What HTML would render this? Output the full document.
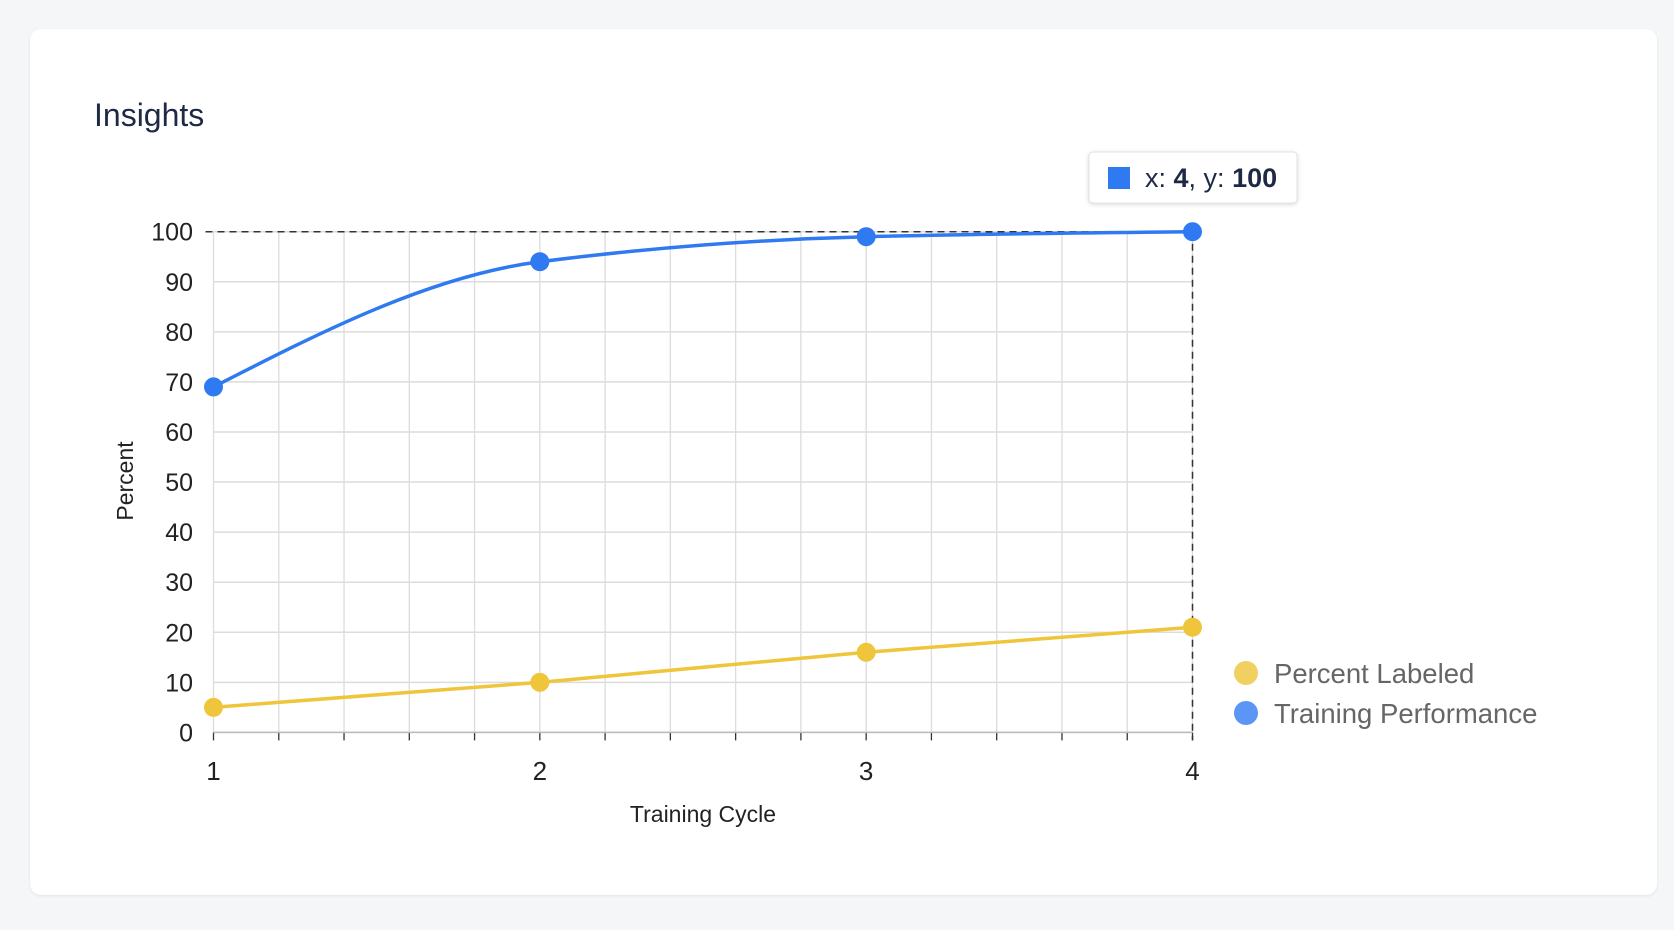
<!DOCTYPE html>
<html><head><meta charset="utf-8"><style>
html,body{margin:0;padding:0;background:#f5f6f8;width:1674px;height:930px;overflow:hidden;font-family:"Liberation Sans",sans-serif}
#card{position:absolute;left:30px;top:29px;width:1627px;height:866px;background:#fff;border-radius:11px;box-shadow:0 1px 3px rgba(0,0,0,.08)}
</style></head><body>
<div id="card"></div>
<svg id="chart" width="1674" height="930" style="position:absolute;left:0;top:0">
<text x="94" y="126" font-size="32" fill="#1e2a45">Insights</text>
<g id="grid"></g><g id="axes"></g><g id="series"></g>
<text x="703" y="822" font-size="23" fill="#222" text-anchor="middle">Training Cycle</text>
<text transform="translate(133,481) rotate(-90)" font-size="23" fill="#222" text-anchor="middle">Percent</text>
<g>
<rect x="1089" y="152" width="208" height="51" rx="4" fill="#fff" stroke="#e3e3e3" style="filter:drop-shadow(0 1px 2px rgba(0,0,0,.15))"/>
<rect x="1108" y="167" width="22" height="22" fill="#2f7af0"/>
<text x="1145" y="187" font-size="27" fill="#1e2a45">x: <tspan font-weight="bold">4</tspan>, y: <tspan font-weight="bold">100</tspan></text>
</g>
<g>
<g><circle cx="1246" cy="673" r="12" fill="#f0d060"/><text x="1274" y="683" font-size="27.5" fill="#666">Percent Labeled</text></g>
<g><circle cx="1246" cy="713" r="12" fill="#5b95f5"/><text x="1274" y="723" font-size="27.5" fill="#666">Training Performance</text></g>
</g>
</svg>
<script>
const categories=[1,2,3,4];
const trainingPerformance=[69,94,99,100];
const percentLabeled=[5,10,16,21];
const yTicks=[0,10,20,30,40,50,60,70,80,90,100];
const NS="http://www.w3.org/2000/svg";
const X0=213.5,X1=1192.5,Y0=732.4,Y1=231.7;
const xs=v=>X0+(v-1)/3*(X1-X0), ys=v=>Y0-v/100*(Y0-Y1);
function mk(t,a,p){const e=document.createElementNS(NS,t);for(const k in a)e.setAttribute(k,a[k]);p.appendChild(e);return e;}
const grid=document.getElementById('grid'),axes=document.getElementById('axes'),ser=document.getElementById('series');
for(let i=0;i<=15;i++){const x=xs(1+i/5);
const l=mk('line',{x1:x,x2:x,y1:Y1,y2:Y0,stroke:'#dcdcdc','stroke-width':1.3},grid);

const t=mk('line',{x1:x,x2:x,y1:Y0,y2:Y0+8,stroke:'#333','stroke-width':1.3},axes);
}
yTicks.forEach(v=>{const y=ys(v);
const l=mk('line',{x1:X0,x2:X1,y1:y,y2:y,stroke:'#dcdcdc','stroke-width':1.5},grid);

const t=mk('text',{x:193,y:y+9,'font-size':25,fill:'#222','text-anchor':'end'},axes);t.textContent=v;
});
categories.forEach(c=>{const t=mk('text',{x:xs(c),y:780,'font-size':26,fill:'#222','text-anchor':'middle'},axes);t.textContent=c;
});
const ax=mk('line',{x1:X0,x2:X1,y1:Y0,y2:Y0,stroke:'#bbb','stroke-width':1.5},axes);

const last=categories.length-1;
const h=mk('line',{x1:X0-8,x2:xs(categories[last]),y1:ys(trainingPerformance[last]),y2:ys(trainingPerformance[last]),stroke:'#333','stroke-width':1.5,'stroke-dasharray':'7,5'},axes);

const vl=mk('line',{x1:xs(categories[last]),x2:xs(categories[last]),y1:ys(trainingPerformance[last]),y2:Y0+8,stroke:'#333','stroke-width':1.5,'stroke-dasharray':'7,5'},axes);

function monotone(px,py){const n=px.length,d=[],m=[];
for(let i=0;i<n-1;i++)d.push((py[i+1]-py[i])/(px[i+1]-px[i]));
for(let i=1;i<n-1;i++){m[i]=d[i-1]*d[i]>0?2/(1/d[i-1]+1/d[i]):0;}
m[0]=(3*d[0]-m[1])/2;m[n-1]=(3*d[n-2]-m[n-2])/2;
let p='M'+px[0]+','+py[0];
for(let i=0;i<n-1;i++){const hh=(px[i+1]-px[i])/3;p+=` C${px[i]+hh},${py[i]+m[i]*hh} ${px[i+1]-hh},${py[i+1]-m[i+1]*hh} ${px[i+1]},${py[i+1]}`;}
return p;}
function series(vals,color,name,curve){
const px=categories.map(xs),py=vals.map(ys);
const d=curve?monotone(px,py):'M'+px.map((x,i)=>x+','+py[i]).join(' L');
const p=mk('path',{d:d,fill:'none',stroke:color,'stroke-width':3.5},ser);

px.forEach((x,i)=>{const c=mk('circle',{cx:x,cy:py[i],r:9.5,fill:color},ser);
});}
series(percentLabeled,'#efc53c','percent-labeled',false);
series(trainingPerformance,'#2f7af0','training-performance',true);
</script>
</body></html>
